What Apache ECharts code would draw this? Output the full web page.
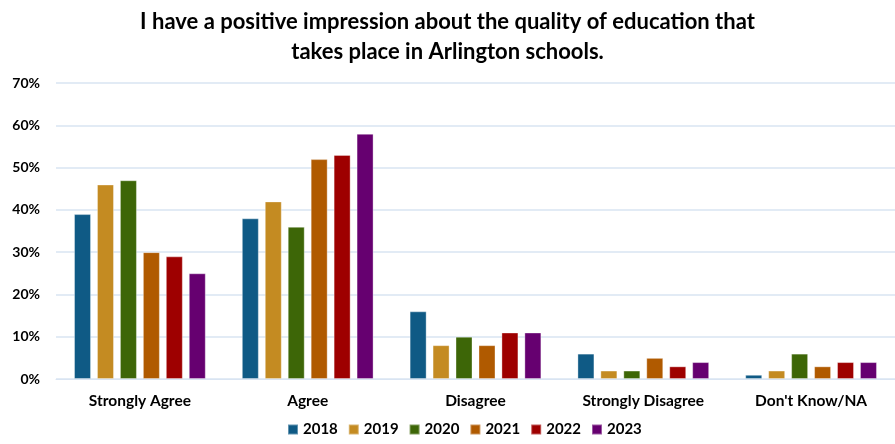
<!DOCTYPE html>
<html><head><meta charset="utf-8">
<script src="https://cdn.jsdelivr.net/npm/echarts@6/dist/echarts.min.js"></script>
<style>html,body{margin:0;padding:0;background:#fff}#c{width:895px;height:444px}</style>
</head><body><div id="c"></div>
<script>
const categories = ["Strongly Agree", "Agree", "Disagree", "Strongly Disagree", "Don't Know/NA"];
const years = ["2018", "2019", "2020", "2021", "2022", "2023"];
const v2018 = [39, 38, 16, 6, 1];
const v2019 = [46, 42, 8, 2, 2];
const v2020 = [47, 36, 10, 2, 6];
const v2021 = [30, 52, 8, 5, 3];
const v2022 = [29, 53, 11, 3, 4];
const v2023 = [25, 58, 11, 4, 4];
const values = [v2018, v2019, v2020, v2021, v2022, v2023];
const colors = ["#0F5A85", "#C48B22", "#3D6607", "#B05A00", "#9E0000", "#660070"];
const font = "Lato, 'Open Sans', sans-serif";
const chart = echarts.init(document.getElementById('c'));
chart.setOption({
  animation: false,
  title: {
    text: "I have a positive impression about the quality of education that\ntakes place in Arlington schools.",
    left: 'center', top: 2,
    textStyle: {fontFamily: font, fontWeight: 'bold', fontSize: 22, color: '#000', lineHeight: 30}
  },
  legend: {
    data: years, bottom: 2, left: 282, itemWidth: 10, itemHeight: 10, itemGap: 10,
    icon: 'rect',
    textStyle: {fontFamily: font, fontWeight: 'bold', fontSize: 15, color: '#000'}
  },
  grid: {left: 56, right: 0, top: 83, bottom: 65},
  xAxis: {
    type: 'category', data: categories,
    axisLine: {show: true, lineStyle: {color: '#D9E4F2'}},
    axisTick: {show: false},
    axisLabel: {fontFamily: font, fontWeight: 'bold', fontSize: 15.5, color: '#000', margin: 14}
  },
  yAxis: {
    type: 'value', min: 0, max: 70, interval: 10,
    axisLabel: {formatter: '{value}%', fontFamily: font, fontWeight: 'bold', fontSize: 14, color: '#000', margin: 16},
    splitLine: {lineStyle: {color: '#D9E4F2', width: 1.5}},
    axisLine: {show: false}, axisTick: {show: false}
  },
  series: years.map((y, i) => ({
    name: y, type: 'bar', data: values[i], barWidth: 17, barGap: '35%',
    itemStyle: {color: colors[i], borderColor: 'rgba(255,255,255,0.35)', borderWidth: 1}
  }))
});
</script></body></html>
